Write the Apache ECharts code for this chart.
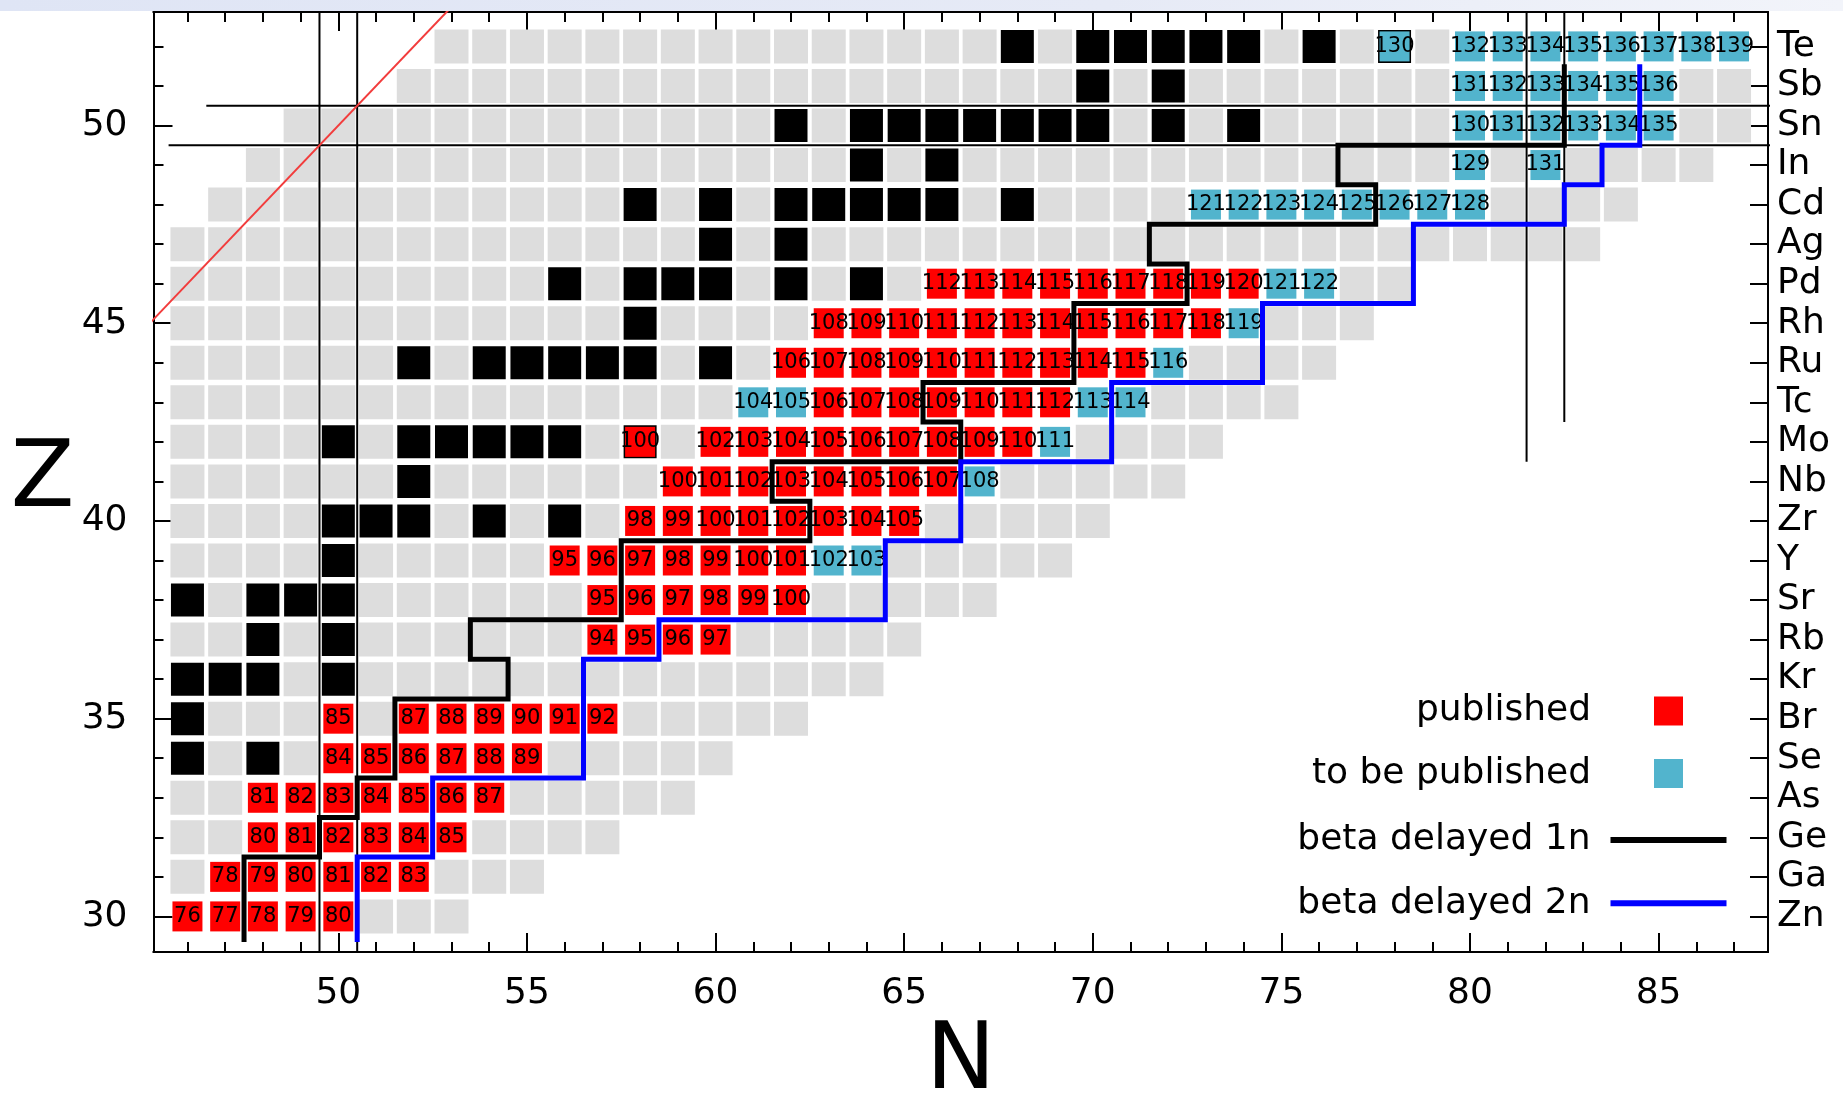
<!DOCTYPE html>
<html lang="en">
<head>
<meta charset="UTF-8">
<title>beta delayed neutron emitters</title>
<script src="https://cdn.jsdelivr.net/npm/echarts@6/dist/echarts.min.js"></script>
<style>
    html, body { margin: 0; padding: 0; background: #fff; }
    #main { width: 1843px; height: 1093px; }
</style>
</head>
<body>
<div id="main"></div>
<script>
    // element symbols for Z = 30 .. 52
    var elements = ['Zn','Ga','Ge','As','Se','Br','Kr','Rb','Sr','Y','Zr','Nb','Mo',
                    'Tc','Ru','Rh','Pd','Ag','Cd','In','Sn','Sb','Te'];

    // known nuclides per row: [Z, first N, last N]
    var knownRange = [[30,46,53],[31,46,55],[32,46,57],[33,46,59],[34,46,60],[35,46,62],
        [36,46,64],[37,46,65],[38,46,67],[39,46,69],[40,46,70],[41,46,72],[42,46,73],
        [43,46,75],[44,46,76],[45,46,77],[46,46,78],[47,46,83],[48,47,84],[49,48,86],
        [50,49,87],[51,52,87],[52,53,87]];

    // stable nuclides: [Z, [N...]]
    var stable = [[34,[46,48]],[35,[46]],[36,[46,47,48,50]],[37,[48,50]],[38,[46,48,49,50]],
        [39,[50]],[40,[50,51,52,54,56]],[41,[52]],[42,[50,52,53,54,55,56,58]],
        [44,[52,54,55,56,57,58,60]],[45,[58]],[46,[56,58,59,60,62,64]],[47,[60,62]],
        [48,[58,60,62,63,64,65,66,68]],[49,[64,66]],[50,[62,64,65,66,67,68,69,70,72,74]],
        [51,[70,72]],[52,[68,70,71,72,73,74,76,78]]];

    // published
    var published = [[30,[46,47,48,49,50]],[31,[47,48,49,50,51,52]],[32,[48,49,50,51,52,53]],
        [33,[48,49,50,51,52,53,54]],[34,[50,51,52,53,54,55]],[35,[50,52,53,54,55,56,57]],
        [37,[57,58,59,60]],[38,[57,58,59,60,61,62]],[39,[56,57,58,59,60,61,62]],
        [40,[58,59,60,61,62,63,64,65]],[41,[59,60,61,62,63,64,65,66]],
        [42,[58,60,61,62,63,64,65,66,67,68]],[43,[63,64,65,66,67,68,69]],
        [44,[62,63,64,65,66,67,68,69,70,71]],[45,[63,64,65,66,67,68,69,70,71,72,73]],
        [46,[66,67,68,69,70,71,72,73,74]]];

    // to be published
    var toBePublished = [[39,[63,64]],[41,[67]],[42,[69]],[43,[61,62,70,71]],[44,[72]],
        [45,[74]],[46,[75,76]],[48,[73,74,75,76,77,78,79,80]],[49,[80,82]],
        [50,[80,81,82,83,84,85]],[51,[80,81,82,83,84,85]],[52,[78,80,81,82,83,84,85,86,87]]];

    // step borders [N, Z]
    var delayed1n = [[47.5,29.35],[47.5,31.5],[49.5,31.5],[49.5,32.5],[50.5,32.5],[50.5,33.5],
        [51.5,33.5],[51.5,35.5],[54.5,35.5],[54.5,36.5],[53.5,36.5],[53.5,37.5],[57.5,37.5],
        [57.5,39.5],[62.5,39.5],[62.5,40.5],[61.5,40.5],[61.5,41.5],[66.5,41.5],[66.5,42.5],
        [65.5,42.5],[65.5,43.5],[69.5,43.5],[69.5,45.5],[72.5,45.5],[72.5,46.5],[71.5,46.5],
        [71.5,47.5],[77.5,47.5],[77.5,48.5],[76.5,48.5],[76.5,49.5],[82.5,49.5],[82.5,51.55]];
    var delayed2n = [[50.5,29.35],[50.5,31.5],[52.5,31.5],[52.5,33.5],[56.5,33.5],[56.5,36.5],
        [58.5,36.5],[58.5,37.5],[64.5,37.5],[64.5,39.5],[66.5,39.5],[66.5,41.5],[70.5,41.5],
        [70.5,43.5],[74.5,43.5],[74.5,45.5],[78.5,45.5],[78.5,47.5],[82.5,47.5],[82.5,48.5],
        [83.5,48.5],[83.5,49.5],[84.5,49.5],[84.5,51.55]];

    // magic number guides and N = Z
    var magicLines = [[[49.5,20],[49.5,60]],[[50.5,20],[50.5,60]],[[81.5,41.5],[81.5,60]],
        [[82.5,42.5],[82.5,60]],[[45.5,49.5],[100,49.5]],[[46.5,50.5],[100,50.5]]];
    var nEqualsZ = [[40,40],[60,60]];

    // axes
    var nMin = 45.1, nMax = 87.9, zMin = 29.1, zMax = 52.87;
    var nMinorTicks = [46,47,48,49,50,51,52,53,54,55,56,57,58,59,60,61,62,63,64,65,66,
                       67,68,69,70,71,72,73,74,75,76,77,78,79,80,81,82,83,84,85,86,87];
    var nMajorTicks = [50,55,60,65,70,75,80,85];
    var zMinorTicks = [30,31,32,33,34,35,36,37,38,39,40,41,42,43,44,45,46,47,48,49,50,51,52];
    var zMajorTicks = [30,35,40,45,50];

    var FONT = 'DejaVu Sans';

    function expand(rows) {
        var out = [];
        rows.forEach(function (r) {
            r[1].forEach(function (n) { out.push([n, r[0]]); });
        });
        return out;
    }
    var stableCells = expand(stable);
    var publishedCells = expand(published);
    var tbpCells = expand(toBePublished);
    var taken = {};
    stableCells.concat(publishedCells, tbpCells).forEach(function (c) {
        taken[c[0] + '_' + c[1]] = true;
    });
    var greyCells = [];
    knownRange.forEach(function (r) {
        for (var n = r[1]; n <= r[2]; n++) {
            if (!taken[n + '_' + r[0]]) greyCells.push([n, r[0]]);
        }
    });

    function cells(name, data, color, size, withLabel) {
        return {
            name: name, type: 'scatter', data: data, symbol: 'rect', symbolSize: size,
            itemStyle: { color: color, opacity: 1 }, z: 2, silent: true,
            emphasis: { disabled: true },
            label: withLabel ? {
                show: true, position: 'inside', color: '#000', fontFamily: FONT, fontSize: 21,
                formatter: function (p) { return p.value[0] + p.value[1]; }
            } : { show: false }
        };
    }
    function line(name, data, color, width, z) {
        return {
            name: name, type: 'line', data: data, symbol: 'none', showSymbol: false,
            lineStyle: { color: color, width: width, join: 'miter', cap: 'butt' },
            itemStyle: { color: color }, z: z, silent: true, clip: true,
            emphasis: { disabled: true }
        };
    }

    var tickStyle = { color: '#000', width: 2 };
    function xAx(pos, ticks, len, labels) {
        return {
            type: 'value', position: pos, min: nMin, max: nMax,
            axisLine: { show: true, onZero: false, lineStyle: { color: '#000', width: 2 } },
            axisTick: { show: true, inside: true, length: len, customValues: ticks, lineStyle: tickStyle },
            axisLabel: labels ? { show: true, customValues: labels, margin: 24, color: '#000',
                                  fontFamily: FONT, fontSize: 36 } : { show: false },
            splitLine: { show: false }
        };
    }
    function yAx(pos, ticks, len, labels, formatter, margin) {
        return {
            type: 'value', position: pos, min: zMin, max: zMax,
            axisLine: { show: true, onZero: false, lineStyle: { color: '#000', width: 2 } },
            axisTick: { show: true, inside: true, length: len, customValues: ticks, lineStyle: tickStyle },
            axisLabel: labels ? { show: true, customValues: labels, margin: margin, color: '#000',
                                  fontFamily: FONT, fontSize: 36, formatter: formatter } : { show: false },
            splitLine: { show: false }
        };
    }

    var xBottom = xAx('bottom', nMajorTicks, 19, nMajorTicks);
    xBottom.name = 'N';
    xBottom.nameLocation = 'middle';
    xBottom.nameGap = 105;
    xBottom.nameTextStyle = { fontFamily: FONT, fontSize: 93, color: '#000', align: 'center', verticalAlign: 'middle' };

    var yLeft = yAx('left', zMajorTicks, 19, zMajorTicks, null, 26);
    yLeft.name = 'Z';
    yLeft.nameLocation = 'middle';
    yLeft.nameRotate = 0;
    yLeft.nameGap = 111;
    yLeft.nameTextStyle = { fontFamily: FONT, fontSize: 93, color: '#000', align: 'center', verticalAlign: 'middle' };

    var series = [
        cells('known', greyCells, '#dddddd', 34, false),
        cells('stable', stableCells, '#000000', 33, false),
        cells('published', publishedCells, '#ff0000', 30, true),
        cells('to be published', tbpCells, '#52b4cd', 30, true)
    ];
    magicLines.forEach(function (seg, i) {
        series.push(line('magic' + i, seg, '#000000', 2, 3));
    });
    series.push(line('N=Z', nEqualsZ, '#f23c3c', 2, 3));
    series.push(line('beta delayed 1n', delayed1n, '#000000', 5, 4));
    series.push(line('beta delayed 2n', delayed2n, '#0000ff', 5, 4));

    var chart = echarts.init(document.getElementById('main'), null, { renderer: 'canvas' });
    chart.setOption({
        animation: false,
        backgroundColor: '#ffffff',
        textStyle: { fontFamily: FONT },
        graphic: [{
            type: 'rect', left: 0, top: 0, z: -10, silent: true,
            shape: { width: 1843, height: 11 },
            style: { fill: new echarts.graphic.LinearGradient(0, 0, 1, 0, [
                { offset: 0, color: '#dfe5f5' }, { offset: 0.6, color: '#e6eaf6' }, { offset: 1, color: '#f2f4fa' }]) }
        }],
        grid: { left: 153.5, top: 12, width: 1614.5, height: 940, containLabel: false, outerBoundsMode: 'none' },
        xAxis: [
            xAx('bottom', nMinorTicks, 10, null),
            xBottom,
            xAx('top', nMinorTicks, 10, null),
            xAx('top', nMajorTicks, 19, null)
        ],
        yAxis: [
            yAx('left', zMinorTicks, 10, null),
            yLeft,
            yAx('right', zMinorTicks, 18, zMinorTicks, function (v) {
                return elements[Math.round(v) - 30];
            }, 9)
        ],
        legend: [{
            data: [{ name: 'published', icon: 'rect' }, { name: 'to be published', icon: 'rect' }],
            orient: 'vertical', align: 'right', right: 160, top: 693, padding: 0,
            itemWidth: 29, itemHeight: 29, itemGap: 26.5, selectedMode: false,
            textStyle: { fontFamily: FONT, fontSize: 36, color: '#000', padding: [0, 58, 0, 0] }
        }, {
            data: [{ name: 'beta delayed 1n', icon: 'rect' }, { name: 'beta delayed 2n', icon: 'rect' }],
            orient: 'vertical', align: 'right', right: 116.5, top: 822, padding: 0,
            itemWidth: 116, itemHeight: 6, itemGap: 27.3, selectedMode: false,
            textStyle: { fontFamily: FONT, fontSize: 36, color: '#000', padding: [0, 15, 0, 0] }
        }],
        series: series
    });
</script>
</body>
</html>
